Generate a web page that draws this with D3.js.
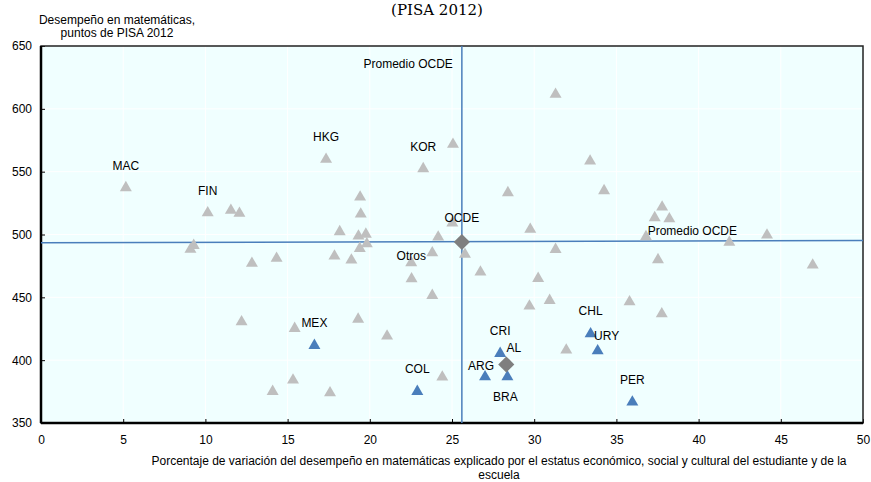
<!DOCTYPE html>
<html>
<head>
<meta charset="utf-8">
<script src="https://cdn.jsdelivr.net/npm/d3@7"></script>
<style>
  body { margin: 0; background: #fff; }
  text { font-family: "Liberation Sans", Arial, sans-serif; fill: #000; }
</style>
</head>
<body>
<div id="chart"></div>
<script>
// ---- data ----
// unlabelled grey countries
const otherX = [11.55, 12.07, 9.29, 9.09, 12.83, 14.33, 12.2, 15.43, 15.33, 14.09,
                19.41, 19.45, 25.06, 31.3, 28.4, 33.4, 34.25, 37.78, 37.33, 38.22,
                36.8, 41.87, 44.16, 37.53, 46.94, 35.8, 37.76,
                18.17, 19.31, 19.76, 19.39, 19.82, 17.85, 18.88, 22.54, 23.8, 24.16,
                25.02, 25.79, 26.73, 23.8, 19.29, 21.05, 17.58, 24.41,
                29.76, 31.3, 30.24, 30.94, 29.71, 31.95];
const otherY = [520, 517.6, 492.1, 489, 477.8, 481.8, 431.3, 426, 384.9, 375.9,
                530.6, 517, 572.5, 612.3, 534, 559.2, 535.6, 522.6, 514.1, 513.3,
                499, 494.5, 500.3, 480.7, 476.4, 447.2, 437.7,
                503, 499.5, 501, 489.7, 493.4, 483.6, 480.4, 465.5, 486.2, 498.7,
                510, 485, 470.9, 452.3, 433.4, 419.9, 374.8, 387.3,
                504.9, 488.9, 465.8, 448.3, 443.8, 408.8];

// labelled grey countries
const namedCodes = ["MAC", "FIN", "HKG", "KOR", "Otros"];
const namedX = [5.16, 10.14, 17.34, 23.25, 22.52];
const namedY = [538, 518, 560.6, 553.1, 478.3];

// Latin American countries (blue)
const lacCodes = ["MEX", "COL", "ARG", "BRA", "CRI", "CHL", "URY", "PER"];
const lacX = [16.63, 22.89, 27.01, 28.37, 27.93, 33.43, 33.86, 35.97];
const lacY = [412.5, 375.9, 387.5, 387.5, 406.1, 421.7, 408.2, 367.4];

// averages (diamonds)
const avgCodes = ["OCDE", "AL"];
const avgX = [25.6, 28.3];
const avgY = [494, 396.6];

// OECD average lines
const oecdVLine = [[25.6, 350], [25.6, 650]];
const oecdHLine = [[0, 493.4], [50, 495.3]];

const xTicks = [0, 5, 10, 15, 20, 25, 30, 35, 40, 45, 50];
const yTicks = [350, 400, 450, 500, 550, 600, 650];

// label offsets in pixels (baseline relative to marker centre)
const labelOffset = {
  MAC: [0, -17], FIN: [0, -17], HKG: [0, -17], KOR: [0, -17], Otros: [0, -1.5],
  MEX: [0, -17], COL: [0, -17], ARG: [-4, -5.5], BRA: [-2, 25.5], CRI: [0, -18],
  CHL: [0, -17.5], URY: [9, -9.5], PER: [0, -17.5],
  OCDE: [0, -20], AL: [7.5, -12]
};

// ---- layout ----
const W = 871, H = 482;
const margin = {top: 46, right: 8, bottom: 59, left: 41};
const width = W - margin.left - margin.right,
      height = H - margin.top - margin.bottom;

const GREY = "#bfbfbf", BLUE = "#4a7ebb", DARK = "#7f7f7f";

const svg = d3.select("#chart").append("svg")
    .attr("width", W).attr("height", H);

const g = svg.append("g")
    .attr("transform", "translate(" + margin.left + "," + margin.top + ")");

const x = d3.scaleLinear().domain([0, 50]).range([0, width]);
const y = d3.scaleLinear().domain([350, 650]).range([height, 0]);

// plot background
g.append("rect")
    .attr("width", width).attr("height", height)
    .attr("fill", "#f0ffff");

// grid
g.selectAll(".vgrid").data(xTicks.slice(1, -1)).join("line")
    .attr("x1", d => x(d)).attr("x2", d => x(d))
    .attr("y1", 0).attr("y2", height)
    .attr("stroke", "#fff").attr("stroke-width", 1);
g.selectAll(".hgrid").data(yTicks.slice(1, -1)).join("line")
    .attr("x1", 0).attr("x2", width)
    .attr("y1", d => y(d)).attr("y2", d => y(d))
    .attr("stroke", "#fff").attr("stroke-width", 1);

// axes
const xAxis = g.append("g")
    .attr("transform", "translate(0," + height + ")")
    .call(d3.axisBottom(x).tickValues(xTicks).tickSizeInner(-4).tickSizeOuter(0).tickPadding(12));
const yAxis = g.append("g")
    .call(d3.axisLeft(y).tickValues(yTicks).tickSizeInner(-4).tickSizeOuter(0).tickPadding(9));
[xAxis, yAxis].forEach(a => {
  a.select(".domain").remove();
  a.selectAll(".tick line").attr("stroke", "#000");
  a.selectAll("text").style("font-size", "12px");
});

// frame
g.append("rect")
    .attr("width", width).attr("height", height)
    .attr("fill", "none").attr("stroke", "#222").attr("stroke-width", 1.5);
g.append("line").attr("x1", 0).attr("x2", 0).attr("y1", 0).attr("y2", height)
    .attr("stroke", "#000").attr("stroke-width", 2.5);
g.append("line").attr("x1", 0).attr("x2", width).attr("y1", height).attr("y2", height)
    .attr("stroke", "#000").attr("stroke-width", 2.5);

// OECD average lines
const line = d3.line().x(d => x(d[0])).y(d => y(d[1]));
[oecdVLine, oecdHLine].forEach(l => {
  g.append("path").attr("d", line(l))
      .attr("fill", "none").attr("stroke", BLUE).attr("stroke-width", 1.5);
});
g.append("text")
    .attr("x", x(oecdVLine[0][0]) - 9).attr("y", y(650) + 22)
    .attr("text-anchor", "end").style("font-size", "12px")
    .text("Promedio OCDE");
g.append("text")
    .attr("x", x(36.9)).attr("y", y(oecdHLine[0][1] + (oecdHLine[1][1] - oecdHLine[0][1]) * 36.9 / 50) - 6)
    .style("font-size", "12px")
    .text("Promedio OCDE");

// markers
const tri = d3.symbol().type(d3.symbolTriangle).size(62);
const dia = d3.symbol().type(d3.symbolSquare).size(130);

const grey = otherX.map((v, i) => ({x: v, y: otherY[i]}))
    .concat(namedX.map((v, i) => ({x: v, y: namedY[i], code: namedCodes[i]})));
const lac = lacX.map((v, i) => ({x: v, y: lacY[i], code: lacCodes[i]}));
const avg = avgX.map((v, i) => ({x: v, y: avgY[i], code: avgCodes[i]}));

g.selectAll(".grey").data(grey).join("path")
    .attr("class", "grey")
    .attr("d", tri)
    .attr("transform", d => "translate(" + x(d.x) + "," + (y(d.y) + 1) + ")")
    .attr("fill", GREY);

g.selectAll(".lac").data(lac).join("path")
    .attr("class", "lac")
    .attr("d", tri)
    .attr("transform", d => "translate(" + x(d.x) + "," + (y(d.y) + 1) + ")")
    .attr("fill", BLUE);

g.selectAll(".avg").data(avg).join("path")
    .attr("class", "avg")
    .attr("d", dia)
    .attr("transform", d => "translate(" + x(d.x) + "," + y(d.y) + ") rotate(45)")
    .attr("fill", DARK);

// labels
const labelled = grey.filter(d => d.code).concat(lac, avg);
g.selectAll(".lbl").data(labelled).join("text")
    .attr("class", "lbl")
    .attr("x", d => x(d.x) + labelOffset[d.code][0])
    .attr("y", d => y(d.y) + labelOffset[d.code][1])
    .attr("text-anchor", "middle")
    .style("font-size", "12px")
    .text(d => d.code);

// titles
svg.append("text")
    .attr("x", 437).attr("y", 15)
    .attr("text-anchor", "middle")
    .style("font-family", "'DejaVu Serif', 'Liberation Serif', serif")
    .style("font-size", "15px")
    .text("(PISA 2012)");

const yTitle = svg.append("text")
    .attr("text-anchor", "middle").style("font-size", "12px");
yTitle.append("tspan").attr("x", 117).attr("y", 24).text("Desempeño en matemáticas,");
yTitle.append("tspan").attr("x", 117).attr("y", 37).text("puntos de PISA 2012");

const xTitle = svg.append("text")
    .attr("text-anchor", "middle").style("font-size", "12px");
xTitle.append("tspan").attr("x", 499).attr("y", 465)
    .text("Porcentaje de variación del desempeño en matemáticas explicado por el estatus económico,  social y cultural del estudiante y de la");
xTitle.append("tspan").attr("x", 499).attr("y", 479).text("escuela");
</script>
</body>
</html>
